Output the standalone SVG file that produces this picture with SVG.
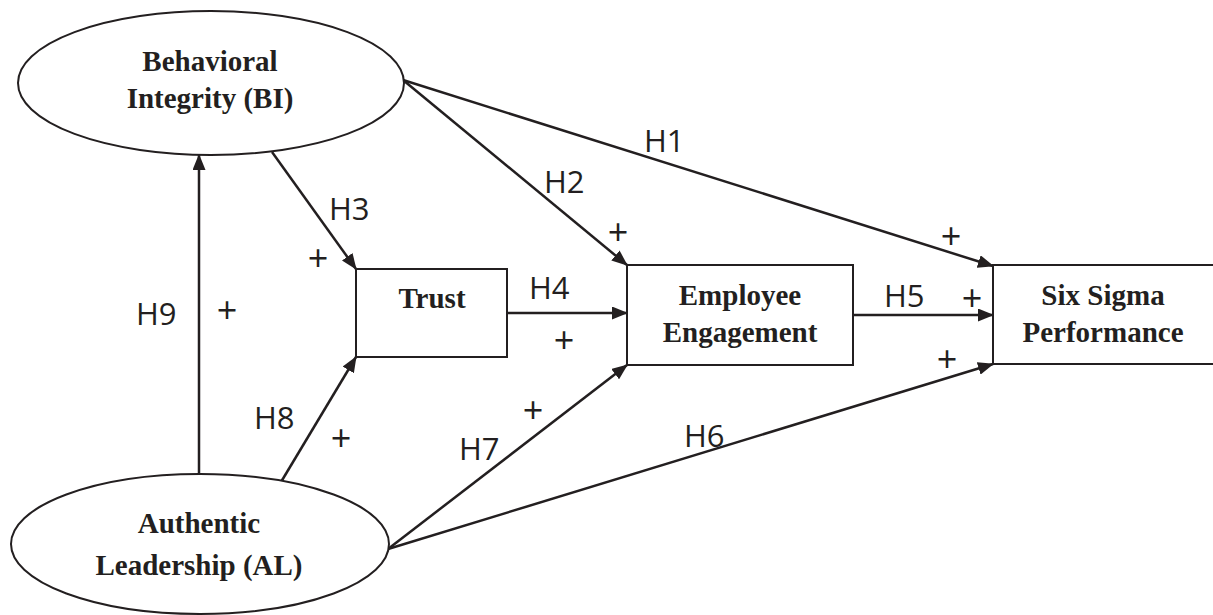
<svg xmlns="http://www.w3.org/2000/svg" width="1213" height="615" viewBox="0 0 1213 615">
<style>
.node{fill:#fff;stroke:#231f20;stroke-width:2}
.nt{font-family:"Liberation Serif","Times New Roman",serif;font-weight:bold;font-size:29px;fill:#231f20;text-anchor:middle}
.lbl{font-family:"Open Sans","Noto Sans",sans-serif;font-size:31px;fill:#231f20}
.pl{font-family:"Open Sans","Noto Sans",sans-serif;font-size:36px;fill:#231f20;text-anchor:middle}
.edge{stroke:#231f20;stroke-width:2.5;fill:none;marker-end:url(#ah)}
</style>
<defs>
<marker id="ah" viewBox="0 0 16 13" markerWidth="16" markerHeight="13" refX="15" refY="6.5" orient="auto" markerUnits="userSpaceOnUse">
<path d="M0,0 L16,6.5 L0,13 z" fill="#231f20"/>
</marker>
</defs>
<rect width="1213" height="615" fill="#fff"/>
<g id="connectors">
<line class="edge" x1="403" y1="80" x2="993" y2="266"/>
<line class="edge" x1="403" y1="80" x2="627" y2="265"/>
<line class="edge" x1="272" y1="152" x2="356" y2="269"/>
<line class="edge" x1="199" y1="474" x2="199" y2="155"/>
<line class="edge" x1="281" y1="482" x2="356" y2="357"/>
<line class="edge" x1="388" y1="549" x2="627" y2="365"/>
<line class="edge" x1="388" y1="549" x2="993" y2="364"/>
<line class="edge" x1="507" y1="313" x2="627" y2="313"/>
<line class="edge" x1="853" y1="315" x2="993" y2="315"/>
</g>
<g id="node-bi">
<ellipse class="node" cx="211" cy="83" rx="193" ry="72"/>
<text class="nt" x="210" y="71">Behavioral</text>
<text class="nt" x="210" y="108">Integrity (BI)</text>
</g>
<g id="node-al">
<ellipse class="node" cx="200" cy="544" rx="189" ry="70"/>
<text class="nt" x="199" y="533">Authentic</text>
<text class="nt" x="199" y="575">Leadership (AL)</text>
</g>
<g id="node-trust">
<rect class="node" x="356" y="269" width="151" height="88"/>
<text class="nt" x="432" y="308">Trust</text>
</g>
<g id="node-ee">
<rect class="node" x="627" y="265" width="226" height="100"/>
<text class="nt" x="740" y="305">Employee</text>
<text class="nt" x="740" y="342">Engagement</text>
</g>
<g id="node-ss">
<rect class="node" x="993" y="265" width="230" height="99"/>
<text class="nt" x="1103" y="305">Six Sigma</text>
<text class="nt" x="1103" y="342">Performance</text>
</g>
<g id="labels">
<text class="lbl" x="644" y="152">H1</text>
<text class="lbl" x="544" y="193">H2</text>
<text class="lbl" x="329" y="220">H3</text>
<text class="lbl" x="529" y="299">H4</text>
<text class="lbl" x="884" y="307">H5</text>
<text class="lbl" x="684" y="447">H6</text>
<text class="lbl" x="459" y="460">H7</text>
<text class="lbl" x="254" y="429">H8</text>
<text class="lbl" x="136" y="325">H9</text>
<text class="pl" x="951" y="249">+</text>
<text class="pl" x="618" y="245">+</text>
<text class="pl" x="318" y="271">+</text>
<text class="pl" x="564" y="353">+</text>
<text class="pl" x="972" y="311">+</text>
<text class="pl" x="947" y="372">+</text>
<text class="pl" x="533" y="423">+</text>
<text class="pl" x="341" y="451">+</text>
<text class="pl" x="227" y="323">+</text>
</g>
</svg>
